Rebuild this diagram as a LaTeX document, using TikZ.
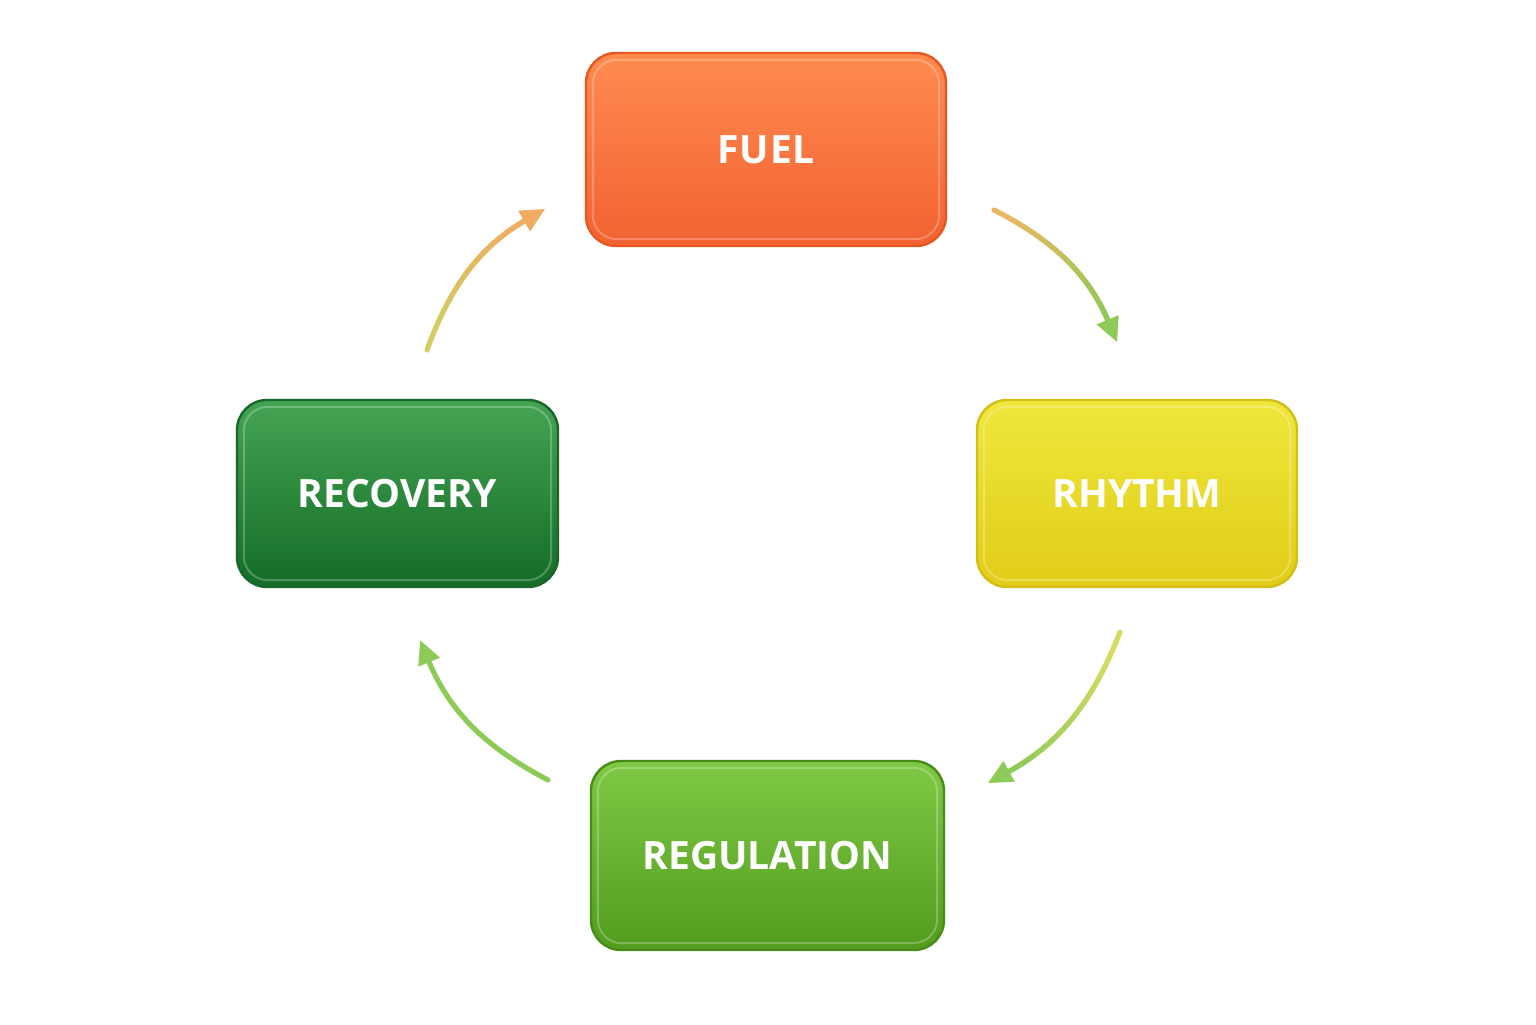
\documentclass[tikz,border=0pt]{standalone}
\usepackage{fontspec}
\setmainfont{Open Sans}
\usetikzlibrary{arrows.meta,fadings}
\definecolor{fuelT}{HTML}{FF8B4F}
\definecolor{fuelD}{HTML}{F26231}
\definecolor{fuelB}{HTML}{E5571F}
\definecolor{rhyT}{HTML}{EFE73C}
\definecolor{rhyD}{HTML}{E1CD18}
\definecolor{rhyB}{HTML}{D2BE14}
\definecolor{regT}{HTML}{80C946}
\definecolor{regD}{HTML}{529C1E}
\definecolor{regB}{HTML}{478C19}
\definecolor{recT}{HTML}{45A454}
\definecolor{recD}{HTML}{136C25}
\definecolor{recB}{HTML}{19652A}
\definecolor{aTan}{HTML}{E8B862}
\definecolor{aGreen}{HTML}{8CCB58}
\definecolor{aYg}{HTML}{D6DC62}
\definecolor{aOl}{HTML}{D2CC62}
\definecolor{aOr}{HTML}{F2AC62}
\begin{document}
\begin{tikzpicture}[x=0.5pt,y=0.5pt,
  box/.style={rounded corners=15pt, line width=1.2pt, text=white,
    font=\bfseries\fontsize{19.5}{23}\selectfont},
  flow/.style={line width=2.6pt, line cap=round,
    -{Triangle[length=12pt,width=11pt]}, bend left=20},
  bevel/.style={white, opacity=0.25, line width=1pt, rounded corners=12pt}]
\useasboundingbox (0,0) rectangle (1536,1024);

\node[box, draw=fuelB, top color=fuelT, bottom color=fuelD,
  minimum width=180pt, minimum height=96.5pt] (fuel) at (766,874.5) {F\kern0.5ptU\kern0.5ptE\kern0.5ptL};
\node[box, draw=rhyB, top color=rhyT, bottom color=rhyD,
  minimum width=160pt, minimum height=93.5pt] (rhythm) at (1137,530.5) {RHYTHM};
\node[box, draw=regB, top color=regT, bottom color=regD,
  minimum width=176.5pt, minimum height=94.5pt] (regulation) at (767.5,168.5) {REGULATION};
\node[box, draw=recB, top color=recT, bottom color=recD,
  minimum width=160.5pt, minimum height=93.5pt] (recovery) at (397.5,530.5) {RECOVERY};

\foreach \n in {fuel,rhythm,regulation,recovery}{
  \draw[bevel] ([shift={(4pt,-4pt)}]\n.north west) rectangle ([shift={(-4pt,4pt)}]\n.south east);
}

\coordinate (a1s) at (994,814);  \coordinate (a1e) at (1117,682);
\coordinate (a2s) at (1120,392); \coordinate (a2e) at (988,241);
\coordinate (a3s) at (548,244);  \coordinate (a3e) at (420,384);
\coordinate (a4s) at (427,674);  \coordinate (a4e) at (545,815);

\draw[flow, draw=aTan] (a1s) to (a1e);
\draw[flow, draw=aGreen, path fading=west, fading angle=-47] (a1s) to (a1e);
\draw[flow, draw=aYg] (a2s) to (a2e);
\draw[flow, draw=aGreen, path fading=west, fading angle=-131] (a2s) to (a2e);
\draw[flow, draw=aGreen] (a3s) to (a3e);
\draw[flow, draw=aOl] (a4s) to (a4e);
\draw[flow, draw=aOr, path fading=west, fading angle=50] (a4s) to (a4e);
\end{tikzpicture}
\end{document}
